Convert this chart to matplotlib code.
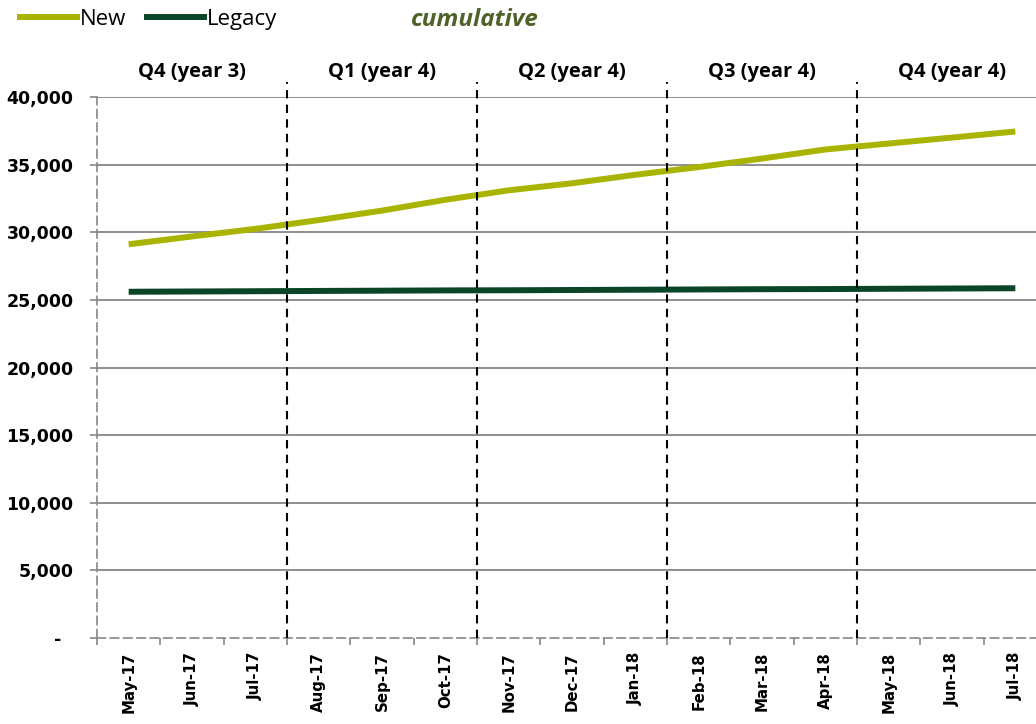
import matplotlib
matplotlib.use("Agg")
import matplotlib.pyplot as plt
from matplotlib.lines import Line2D
from matplotlib.transforms import blended_transform_factory
from matplotlib.ticker import FuncFormatter, FixedLocator

months = ["May-17", "Jun-17", "Jul-17", "Aug-17", "Sep-17", "Oct-17", "Nov-17",
          "Dec-17", "Jan-18", "Feb-18", "Mar-18", "Apr-18", "May-18", "Jun-18", "Jul-18"]
new_vals = [29110, 29690, 30250, 30900, 31600, 32400, 33100, 33620, 34250,
            34820, 35450, 36120, 36560, 37000, 37450]
legacy_vals = [25600, 25620, 25640, 25660, 25680, 25700, 25710, 25730, 25750,
               25770, 25790, 25800, 25820, 25840, 25860]
quarters = ["Q4 (year 3)", "Q1 (year 4)", "Q2 (year 4)", "Q3 (year 4)", "Q4 (year 4)"]
yticks = [0, 5000, 10000, 15000, 20000, 25000, 30000, 35000, 40000]

NEW_C = "#A8B400"
LEG_C = "#0B4527"
GRID_C = "#868686"
TITLE_C = "#4F6228"
LABEL_FONT = ["Open Sans", "DejaVu Sans"]

W, H = 1036, 724
fig = plt.figure(figsize=(W / 100, H / 100), dpi=100)
left_px, right_px, top_px, bot_px = 97, 1047, 97, 638
ax = fig.add_axes([left_px / W, 1 - bot_px / H, (right_px - left_px) / W, (bot_px - top_px) / H])

x = list(range(len(months)))
ax.plot(x, new_vals, color=NEW_C, lw=4.3, solid_capstyle="butt", zorder=4)
ax.plot(x, legacy_vals, color=LEG_C, lw=4.3, solid_capstyle="butt", zorder=4)

ax.set_xlim(-0.5, len(months) - 0.5)
ax.set_ylim(0, 40000)

# gridlines (not at zero)
for v in yticks[1:]:
    ax.axhline(v, color=GRID_C, lw=1.3, zorder=1)

# spines
for s in ["top", "right"]:
    ax.spines[s].set_visible(False)
for s in ["left", "bottom"]:
    ax.spines[s].set_color(GRID_C)
    ax.spines[s].set_linewidth(1.2)
    ax.spines[s].set_linestyle((0, (5, 3)))

# y ticks
ax.yaxis.set_major_locator(FixedLocator(yticks))
ax.yaxis.set_major_formatter(FuncFormatter(lambda v, p: "-  " if v == 0 else f"{int(v):,}"))
ax.tick_params(axis="y", length=5, width=1.2, color=GRID_C, pad=12,
               labelsize=12.5, labelcolor="black")
for lab in ax.get_yticklabels():
    lab.set_fontweight("bold")

# x ticks: labels at centers, tick marks at boundaries
ax.set_xticks(x)
ax.set_xticklabels(months, rotation=90, fontsize=10.8, fontweight="bold")
ax.tick_params(axis="x", which="major", length=0, pad=10)
ax.set_xticks([i - 0.5 for i in range(len(months) + 1)], minor=True)
ax.tick_params(axis="x", which="minor", length=5, width=1.2, color=GRID_C)

# quarter separators and labels
trans = blended_transform_factory(ax.transData, ax.transAxes)
for b in [2.5, 5.5, 8.5, 11.5]:
    ax.add_line(Line2D([b, b], [0, 1.028], transform=trans, color="black",
                       lw=1.5, linestyle=(0, (4, 3)), clip_on=False, zorder=5))
q_y = 1 + (top_px - 77) / (bot_px - top_px)
for i, q in enumerate(quarters):
    ax.text(3 * i + 1, q_y, q, transform=trans, ha="center", va="baseline",
            fontsize=14.5, fontweight="bold", family=LABEL_FONT)

# manual legend
ly = 1 - 17 / H
by = 1 - 25 / H
fig.add_artist(Line2D([20 / W, 77 / W], [ly, ly], color=NEW_C, lw=4.3, transform=fig.transFigure))
fig.text(80 / W, by, "New", ha="left", va="baseline", fontsize=16, family=LABEL_FONT)
fig.add_artist(Line2D([147 / W, 204 / W], [ly, ly], color=LEG_C, lw=4.3, transform=fig.transFigure))
fig.text(207 / W, by, "Legacy", ha="left", va="baseline", fontsize=16, family=LABEL_FONT)
fig.text(475 / W, 1 - 26 / H, "cumulative", ha="center", va="baseline", fontsize=17.5,
         fontweight="bold", fontstyle="italic", color=TITLE_C, family=LABEL_FONT)

fig.savefig("out.png", dpi=100)
